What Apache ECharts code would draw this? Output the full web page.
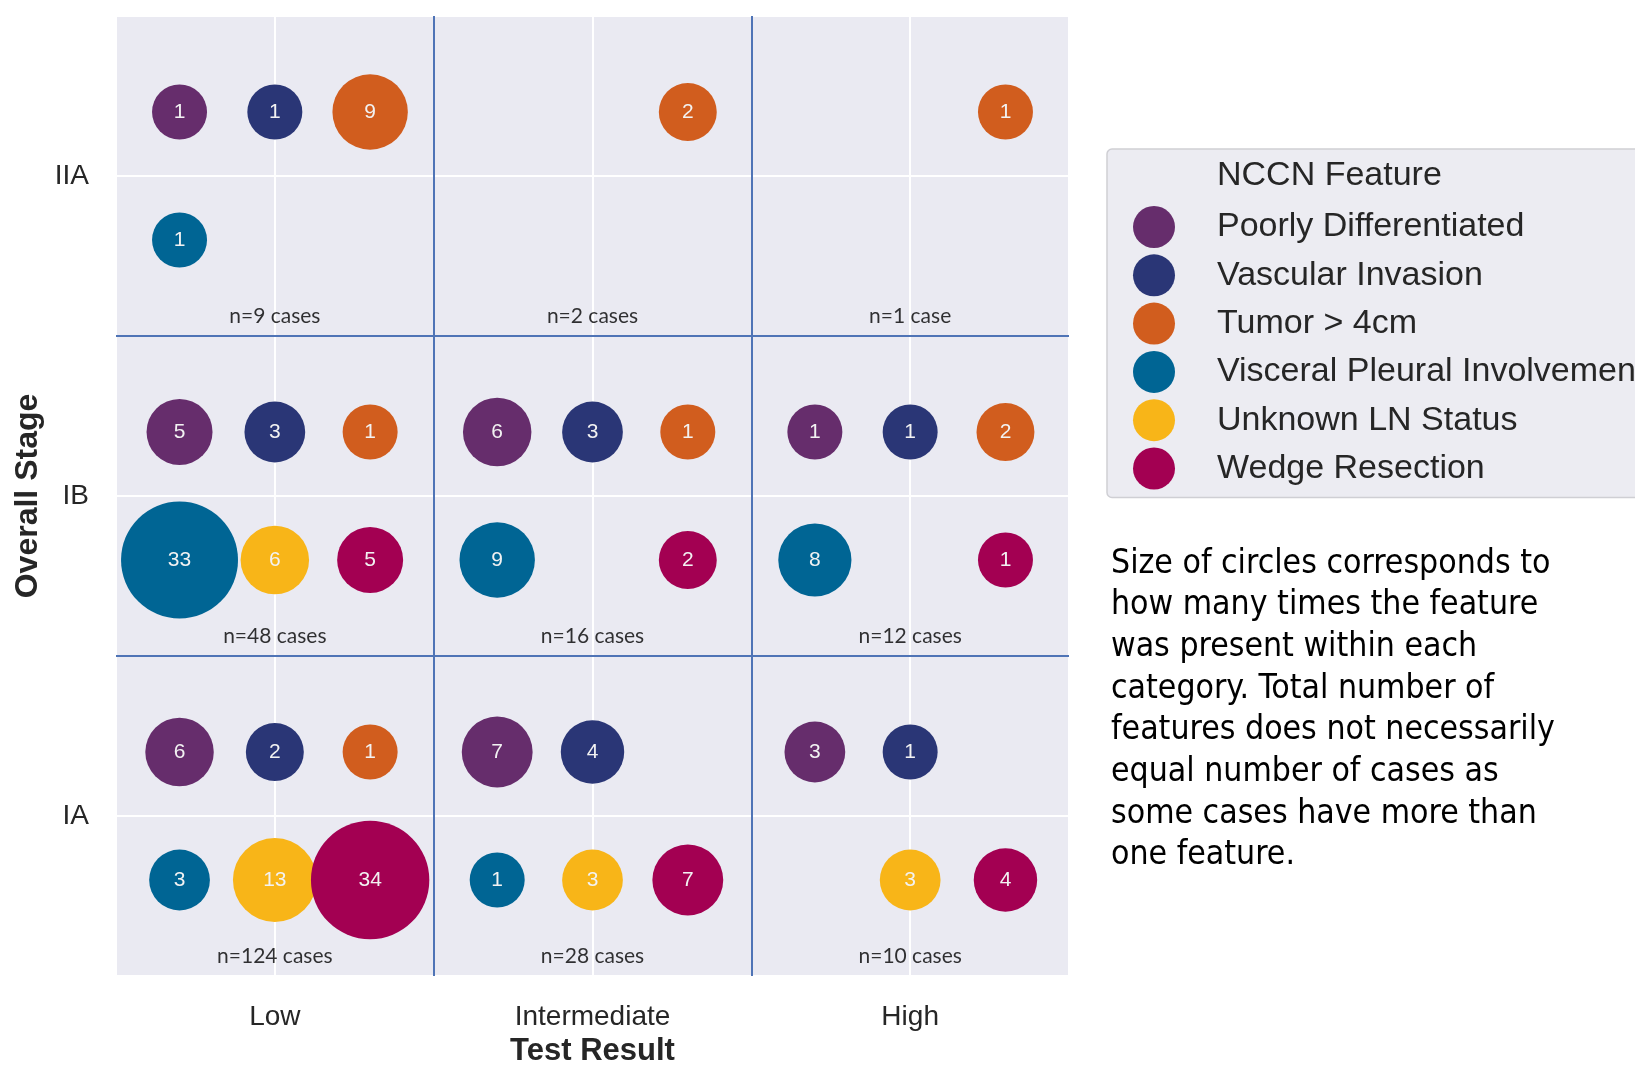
<!DOCTYPE html>
<html><head><meta charset="utf-8">
<script src="https://cdn.jsdelivr.net/npm/echarts@6/dist/echarts.min.js"></script>
<style>html,body{margin:0;padding:0;background:#fff}#c{width:1635px;height:1078px}</style>
</head><body><div id="c"></div>
<script>
// ---- data ----
const testResults = ['Low', 'Intermediate', 'High'];
const stages = ['IA', 'IB', 'IIA'];
const featureNames = ['Poorly Differentiated', 'Vascular Invasion', 'Tumor > 4cm',
  'Visceral Pleural Involvement', 'Unknown LN Status', 'Wedge Resection'];
// counts[stage][testResult]  (stage order IA, IB, IIA; result order Low, Intermediate, High)
const poorlyDifferentiated = [[6, 7, 3], [5, 6, 1], [1, null, null]];
const vascularInvasion     = [[2, 4, 1], [3, 3, 1], [1, null, null]];
const tumorOver4cm         = [[1, null, null], [1, 1, 2], [9, 2, 1]];
const visceralPleural      = [[3, 1, null], [33, 9, 8], [1, null, null]];
const unknownLNStatus      = [[13, 3, 3], [6, null, null], [null, null, null]];
const wedgeResection       = [[34, 7, 4], [5, 2, 1], [null, null, null]];
const caseCounts           = [[124, 28, 10], [48, 16, 12], [9, 2, 1]];
const noteText = 'Size of circles corresponds to\nhow many times the feature\nwas present within each\ncategory. Total number of\nfeatures does not necessarily\nequal number of cases as\nsome cases have more than\none feature.';

// ---- styling / layout ----
const featureCounts = [poorlyDifferentiated, vascularInvasion, tumorOver4cm, visceralPleural, unknownLNStatus, wedgeResection];
const colors = ['#662d6c', '#2a3676', '#d15d1e', '#006594', '#f8b518', '#a30052'];
const slotDX = [-0.3, 0, 0.3, -0.3, 0, 0.3];
const slotDY = [0.2, 0.2, 0.2, -0.2, -0.2, -0.2];
const sizeOf = v => Math.sqrt(2692 + 333 * v);
const isInt = v => Math.abs(v - Math.round(v)) < 1e-6;
const TXT = '#262626';

const series = featureCounts.map((m, f) => {
  const data = [];
  m.forEach((row, s) => row.forEach((v, r) => {
    if (v != null) data.push([r + slotDX[f], s + slotDY[f], v]);
  }));
  return {
    name: featureNames[f], type: 'scatter', data,
    symbolSize: d => sizeOf(d[2]),
    itemStyle: { color: colors[f], opacity: 1 },
    label: { show: true, position: 'inside', formatter: p => String(p.value[2]),
      color: '#f2f2f2', fontSize: 21, fontFamily: 'Liberation Sans' },
    emphasis: { disabled: true }, z: 3
  };
});

const nData = [];
caseCounts.forEach((row, s) => row.forEach((n, r) => nData.push([r, s - 0.4375, n])));
series.push({
  name: 'cases', type: 'scatter', data: nData, symbolSize: 1,
  itemStyle: { color: 'rgba(0,0,0,0)' }, silent: true, z: 4,
  label: { show: true, position: 'inside', color: '#000', fontSize: 21, fontFamily: 'Lato',
    formatter: p => 'n=' + p.value[2] + (p.value[2] === 1 ? ' case' : ' cases') },
  markLine: {
    silent: true, symbol: 'none', label: { show: false },
    lineStyle: { color: '#4f74b6', width: 2, type: 'solid' },
    data: [{ xAxis: 0.5 }, { xAxis: 1.5 }, { yAxis: 0.5 }, { yAxis: 1.5 }]
  }
});

const chart = echarts.init(document.getElementById('c'), null, { renderer: 'canvas' });
chart.setOption({
  animation: false,
  backgroundColor: '#ffffff',
  grid: { left: 116, top: 16, width: 953, height: 960, show: true, backgroundColor: '#eaeaf2',
    borderWidth: 0, containLabel: false, outerBoundsMode: 'none' },
  xAxis: {
    type: 'value', min: -0.5, max: 2.5, interval: 0.5,
    axisLine: { show: false }, axisTick: { show: false },
    splitLine: { show: true, lineStyle: { color: '#ffffff', width: 2 } },
    axisLabel: { formatter: v => isInt(v) ? testResults[Math.round(v)] : '', fontSize: 28,
      color: TXT, margin: 27, fontFamily: 'Liberation Sans', showMinLabel: true, showMaxLabel: true },
    name: 'Test Result', nameLocation: 'middle', nameGap: 59,
    nameTextStyle: { fontSize: 31, fontWeight: 'bold', color: TXT, fontFamily: 'Liberation Sans' }
  },
  yAxis: {
    type: 'value', min: -0.5, max: 2.5, interval: 0.5,
    axisLine: { show: false }, axisTick: { show: false },
    splitLine: { show: true, lineStyle: { color: '#ffffff', width: 2 } },
    axisLabel: { formatter: v => isInt(v) ? stages[Math.round(v)] : '', fontSize: 28,
      color: TXT, margin: 27, fontFamily: 'Liberation Sans' },
    name: 'Overall Stage', nameLocation: 'middle', nameGap: 71,
    nameTextStyle: { fontSize: 32, fontWeight: 'bold', color: TXT, fontFamily: 'Liberation Sans' }
  },
  legend: {
    data: featureNames, orient: 'vertical', left: 1107, top: 149,
    icon: 'circle', itemWidth: 42, itemHeight: 42, itemGap: 6.3,
    padding: [57, 10, 8, 26],
    backgroundColor: '#ececf2', borderColor: '#cfcfd4', borderWidth: 1.5, borderRadius: 5,
    selectedMode: false,
    textStyle: { fontSize: 34, color: TXT, fontFamily: 'Liberation Sans', padding: [0, 0, 0, 37] }
  },
  graphic: [
    { type: 'text', left: 1217, top: 159, z: 100,
      style: { text: 'NCCN Feature', fontSize: 34, fontFamily: 'Liberation Sans', fill: TXT } },
    { type: 'text', left: 1111, top: 543, z: 100,
      style: { text: noteText, fontSize: 33.5, lineHeight: 41.7, fontFamily: 'DejaVu Sans Condensed, DejaVu Sans', fill: '#000' } }
  ],
  series
});
</script></body></html>
